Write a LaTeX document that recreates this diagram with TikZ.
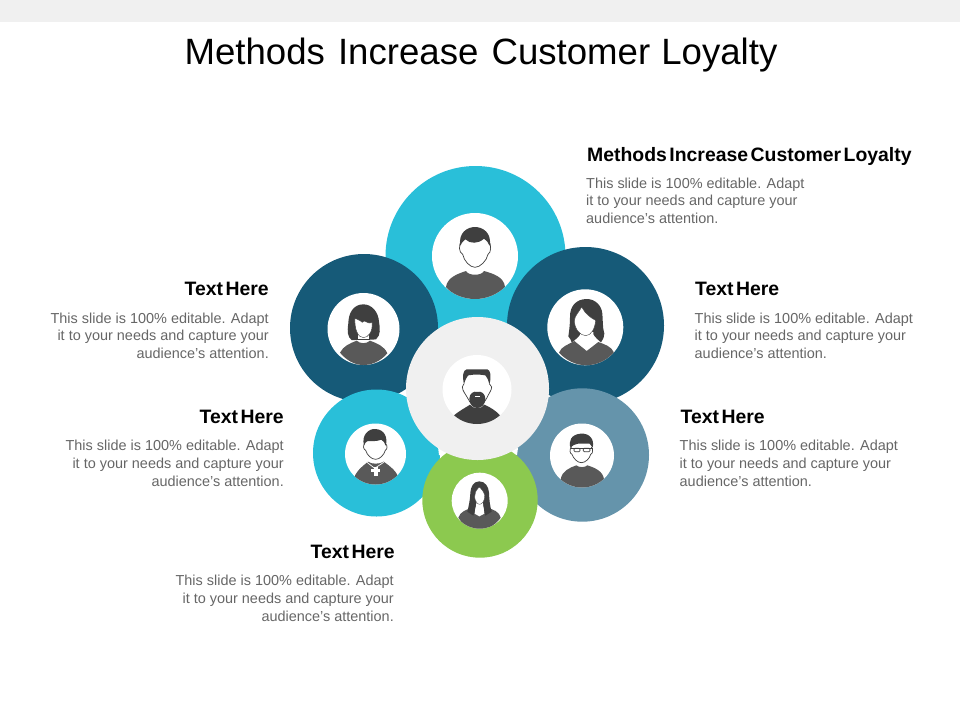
\documentclass[tikz,border=0pt]{standalone}
\usepackage{fontspec}
\setmainfont{Liberation Sans}
\definecolor{cyanc}{HTML}{29BFD9}
\definecolor{darkc}{HTML}{165A78}
\definecolor{bluec}{HTML}{6594AB}
\definecolor{greenc}{HTML}{8CC94F}
\definecolor{greyc}{HTML}{F0F0F0}
\definecolor{bodyc}{HTML}{595959}
\definecolor{hairc}{HTML}{3F3F3F}
\definecolor{textc}{HTML}{666666}
\newcommand{\headwords}[1]{\bfseries\fontsize{19.4}{22}\selectfont\spaceskip 2.5pt\relax #1}
\tikzset{
  disc/.style={circle,inner sep=0pt,outer sep=0pt,draw=none,fill=#1},
  iconframe/.style={shift={(#1)},scale=1/3},
  torso/.style={fill=bodyc,draw=none},
  hairdo/.style={fill=hairc,draw=none},
  faceskin/.style={fill=white,draw=hairc,line width=0.7pt},
  gapfill/.style={fill=white,draw=none},
  headtext/.style={inner sep=0pt,text=black},
  lefttext/.style={inner sep=0pt,anchor=north west,align=left,font=\fontsize{14.45}{17.8}\selectfont,text=textc},
  righttext/.style={inner sep=0pt,anchor=north east,align=right,font=\fontsize{14.45}{17.8}\selectfont,text=textc},
}
\newcommand{\bodyleft}{This slide is 100\% editable. Adapt\\it to your needs and capture your\\audience's attention.}
\begin{document}
\begin{tikzpicture}[x=1pt,y=-1pt]
\useasboundingbox (0,0) rectangle (960,720);
\fill[greyc] (0,0) rectangle (960,22);
\node[inner sep=0pt,anchor=base,font=\fontsize{36.6}{40}\selectfont,text=black] (title) at (481,64) {Methods\hspace{3pt} Increase\hspace{3pt} Customer\hspace{1pt} Loyalty};

\node[disc=cyanc,minimum size=180pt] (topdisc) at (475.5,256) {};
\node[disc=darkc,minimum size=148pt] (leftdark) at (364,328) {};
\node[disc=darkc,minimum size=157pt] (rightdark) at (585.5,325.5) {};
\node[disc=cyanc,minimum size=127pt] (leftcyan) at (376.5,453) {};
\node[disc=bluec,minimum size=133.4pt] (rightblue) at (582.3,455) {};
\fill[gapfill] (403,391) -- (409,391) -- (409,397) -- (405,396) -- cycle;
\fill[gapfill] (438,447) -- (447,447) -- (450,456) -- (439,455) -- cycle;
\fill[gapfill] (513,448) -- (518,448) -- (517,455) -- (512,454) -- cycle;
\node[disc=greenc,minimum size=115.4pt] (greendisc) at (480,500) {};
\node[disc=greyc,minimum size=143pt] (centerdisc) at (477.5,388.5) {};

\node[disc=white,minimum size=86pt] (tophole) at (475,256) {};
\node[disc=white,minimum size=72pt] (lefthole) at (363.5,329) {};
\node[disc=white,minimum size=76pt] (righthole) at (585.3,327.3) {};
\node[disc=white,minimum size=69pt] (centerhole) at (477,389.5) {};
\node[disc=white,minimum size=61pt] (cyanhole) at (375.5,454) {};
\node[disc=white,minimum size=64pt] (bluehole) at (582,455.5) {};
\node[disc=white,minimum size=56pt] (greenhole) at (479.7,500.7) {};

% top man
\begin{scope}
\clip (tophole) circle [radius=43];
\begin{scope}[iconframe={430,212}]
\fill[torso] (48,225) .. controls (52,195) and (85,185) .. (108,177) .. controls (115,192) and (155,192) .. (162,177) .. controls (190,185) and (222,195) .. (225,225) .. controls (200,255) and (160,265) .. (135,265) .. controls (100,265) and (70,250) .. (48,225) -- cycle;
\draw[faceskin] (94,85) .. controls (86,100) and (86,122) .. (98,127) .. controls (102,147) and (120,166) .. (135,166) .. controls (150,166) and (170,147) .. (174,127) .. controls (184,122) and (184,100) .. (177,85);
\fill[hairdo] (91,102) .. controls (84,62) and (112,45) .. (135,45) .. controls (158,45) and (186,62) .. (179,102) .. controls (175,92) and (170,84) .. (162,80) .. controls (145,96) and (120,96) .. (106,82) .. controls (100,86) and (95,92) .. (91,102) -- cycle;
\end{scope}
\end{scope}

% left woman
\begin{scope}
\clip (lefthole) circle [radius=36];
\begin{scope}[iconframe={325,290}]
\fill[torso] (45,188) .. controls (55,168) and (75,160) .. (95,152) .. controls (105,162) and (125,162) .. (135,152) .. controls (155,160) and (178,168) .. (187,190) .. controls (165,215) and (140,225) .. (115,225) .. controls (90,225) and (65,212) .. (45,188) -- cycle;
\fill[hairdo] (115,43) .. controls (85,43) and (70,70) .. (70,100) .. controls (66,125) and (68,142) .. (80,150) .. controls (100,150) and (135,150) .. (153,148) .. controls (168,135) and (165,115) .. (162,95) .. controls (160,65) and (140,43) .. (115,43) -- cycle;
\fill[white] (98,130) rectangle (132,148);
\draw[faceskin,line width=0.4pt] (90,85) .. controls (100,90) and (108,92) .. (112,97) .. controls (115,92) and (120,92) .. (122,95) .. controls (130,100) and (135,100) .. (141,98) .. controls (144,125) and (130,143) .. (115,143) .. controls (98,143) and (88,115) .. (90,85) -- cycle;
\end{scope}
\end{scope}

% right woman
\begin{scope}
\clip (righthole) circle [radius=38];
\begin{scope}[iconframe={545,287}]
\fill[torso] (42,197) .. controls (48,178) and (72,172) .. (88,162) -- (125,192) -- (160,165) .. controls (178,172) and (200,178) .. (207,197) .. controls (185,225) and (150,235) .. (125,235) .. controls (95,235) and (65,222) .. (42,197) -- cycle;
\fill[hairdo] (125,36) .. controls (92,36) and (74,60) .. (75,90) .. controls (75,115) and (72,135) .. (70,148) .. controls (76,155) and (78,160) .. (80,166) .. controls (90,160) and (100,150) .. (106,142) -- (145,142) .. controls (150,150) and (160,160) .. (168,166) .. controls (175,155) and (178,150) .. (178,140) .. controls (172,120) and (174,100) .. (172,80) .. controls (170,55) and (150,36) .. (125,36) -- cycle;
\fill[white] (106,135) -- (145,135) -- (145,158) -- (125,175) -- (105,158) -- cycle;
\draw[faceskin,line width=0.4pt] (110,60) .. controls (102,75) and (90,85) .. (88,100) .. controls (88,125) and (105,146) .. (122,146) .. controls (138,146) and (150,125) .. (152,100) .. controls (140,95) and (120,80) .. (110,60) -- cycle;
\end{scope}
\end{scope}

% centre man with beard
\begin{scope}
\clip (centerhole) circle [radius=34.5];
\begin{scope}[iconframe={440,352}]
\fill[hairc] (42,190) .. controls (60,175) and (80,165) .. (90,158) .. controls (100,172) and (125,172) .. (133,158) .. controls (150,165) and (170,178) .. (180,190) .. controls (160,210) and (135,218) .. (110,218) .. controls (85,218) and (60,208) .. (42,190) -- cycle;
\draw[faceskin] (72,95) -- (67,105) .. controls (68,118) and (76,125) .. (84,140) .. controls (90,152) and (100,165) .. (112,165) .. controls (124,165) and (134,150) .. (142,135) .. controls (146,125) and (155,115) .. (155,105) -- (148,95);
\fill[hairc] (88,140) .. controls (88,124) and (102,116) .. (112,120) .. controls (122,116) and (136,124) .. (136,140) .. controls (136,158) and (124,168) .. (112,168) .. controls (100,168) and (88,158) .. (88,140) -- cycle;
\fill[white] (104,131) rectangle (120,135);
\fill[hairdo] (72,97) .. controls (66,70) and (70,54) .. (80,52) -- (142,52) .. controls (152,54) and (155,75) .. (148,97) .. controls (145,85) and (142,75) .. (136,70) .. controls (120,67) and (100,67) .. (85,70) .. controls (80,75) and (75,85) .. (72,97) -- cycle;
\end{scope}
\end{scope}

% left man with cross
\begin{scope}
\clip (cyanhole) circle [radius=30.5];
\begin{scope}[iconframe={343,421}]
\fill[torso] (32,178) .. controls (35,152) and (60,135) .. (75,122) .. controls (85,130) and (110,130) .. (122,122) .. controls (140,135) and (165,152) .. (168,178) .. controls (150,195) and (120,200) .. (98,200) .. controls (75,200) and (50,195) .. (32,178) -- cycle;
\draw[white,line width=0.7pt] (72,124) -- (95,142) -- (122,124);
\fill[white] (92,138) rectangle (104,166);
\fill[white] (84,145) rectangle (112,153);
\draw[faceskin] (65,68) .. controls (60,72) and (60,85) .. (68,88) .. controls (72,102) and (85,115) .. (98,115) .. controls (110,115) and (123,102) .. (127,88) .. controls (134,85) and (133,72) .. (128,68);
\fill[hairdo] (63,72) .. controls (55,45) and (75,22) .. (98,24) .. controls (125,26) and (135,50) .. (128,74) .. controls (125,66) and (122,60) .. (115,56) .. controls (100,62) and (85,60) .. (74,60) .. controls (70,62) and (66,66) .. (63,72) -- cycle;
\end{scope}
\end{scope}

% right man with glasses
\begin{scope}
\clip (bluehole) circle [radius=32];
\begin{scope}[iconframe={548,421}]
\fill[torso] (38,175) .. controls (42,150) and (65,140) .. (85,133) .. controls (92,140) and (112,140) .. (118,133) .. controls (140,140) and (165,150) .. (168,175) .. controls (150,195) and (125,205) .. (100,205) .. controls (80,205) and (55,195) .. (38,175) -- cycle;
\draw[faceskin] (70,78) .. controls (64,85) and (65,98) .. (72,100) .. controls (76,112) and (88,125) .. (100,125) .. controls (113,125) and (125,112) .. (128,100) .. controls (135,98) and (136,85) .. (130,78);
\fill[hairdo] (68,82) .. controls (60,60) and (70,40) .. (98,38) .. controls (125,36) and (140,55) .. (134,80) -- (125,68) -- (90,68) .. controls (82,70) and (72,72) .. (68,82) -- cycle;
\draw[hairc,line width=0.8pt] (68,82) -- (134,82);
\draw[hairc,line width=0.7pt,rounded corners=1pt] (78,82) rectangle (96,92);
\draw[hairc,line width=0.7pt,rounded corners=1pt] (106,82) rectangle (126,92);
\end{scope}
\end{scope}

% bottom woman
\begin{scope}
\clip (greenhole) circle [radius=28];
\begin{scope}[iconframe={450,471}]
\fill[torso] (25,140) .. controls (30,122) and (50,115) .. (68,110) -- (88,135) -- (110,110) .. controls (130,115) and (148,122) .. (152,140) .. controls (135,165) and (110,175) .. (88,175) .. controls (65,175) and (40,165) .. (25,140) -- cycle;
\fill[hairdo] (88,31) .. controls (70,31) and (62,48) .. (61,65) .. controls (60,90) and (56,105) .. (52,122) -- (70,134) -- (80,100) -- (98,100) -- (106,134) -- (125,122) .. controls (120,105) and (118,90) .. (117,65) .. controls (116,48) and (106,31) .. (88,31) -- cycle;
\fill[white] (80,92) -- (98,92) -- (103,128) -- (88,136) -- (74,128) -- cycle;
\draw[faceskin,line width=0.3pt] (86,50) .. controls (78,58) and (73,68) .. (74,78) .. controls (75,90) and (82,100) .. (89,100) .. controls (96,100) and (103,90) .. (104,78) .. controls (105,68) and (98,58) .. (90,50) -- cycle;
\end{scope}
\end{scope}

% labels
\node[headtext,anchor=base west] (h1) at (587,161) {\headwords{Methods Increase Customer Loyalty}};
\node[lefttext] (b1) at (586,177.5) {\bodyleft};
\node[headtext,anchor=base west] (h2) at (695,295) {\headwords{Text Here}};
\node[lefttext] (b2) at (694.5,312.5) {\bodyleft};
\node[headtext,anchor=base west] (h3) at (680.5,423) {\headwords{Text Here}};
\node[lefttext] (b3) at (679.5,440) {\bodyleft};
\node[headtext,anchor=base east] (h4) at (269,295) {\headwords{Text Here}};
\node[righttext] (b4) at (269,312.5) {\bodyleft};
\node[headtext,anchor=base east] (h5) at (284,423) {\headwords{Text Here}};
\node[righttext] (b5) at (284,440) {\bodyleft};
\node[headtext,anchor=base east] (h6) at (395,558) {\headwords{Text Here}};
\node[righttext] (b6) at (394,575) {\bodyleft};
\end{tikzpicture}
\end{document}
